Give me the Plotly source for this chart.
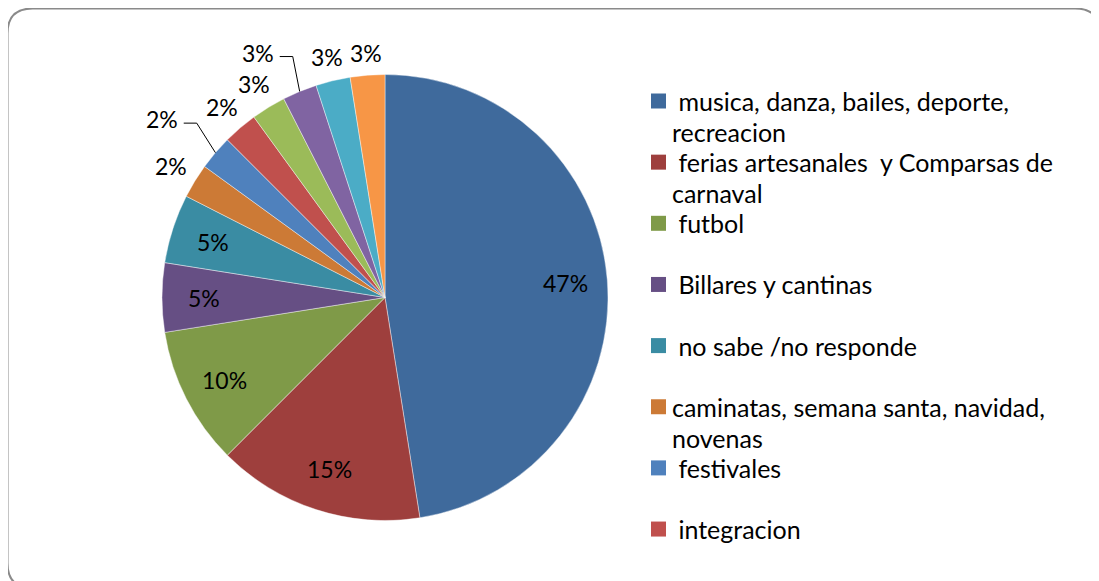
import math
import plotly.graph_objects as go

# ── Data ─────────────────────────────────────────────────────────────────────
CATEGORIES = [
    "musica, danza, bailes, deporte, recreacion",
    "ferias artesanales  y Comparsas de carnaval",
    "futbol",
    "Billares y cantinas",
    "no sabe /no responde",
    "caminatas, semana santa, navidad, novenas",
    "festivales",
    "integracion",
    "otros 1",
    "otros 2",
    "otros 3",
    "otros 4",
]
COUNTS = [19, 6, 4, 2, 2, 1, 1, 1, 1, 1, 1, 1]
PCT_LABELS = ["47%", "15%", "10%", "5%", "5%", "2%", "2%", "2%", "3%", "3%", "3%", "3%"]
LEGEND_LINES = [
    [" musica, danza, bailes, deporte,", "recreacion"],
    [" ferias artesanales  y Comparsas de", "carnaval"],
    [" futbol"],
    [" Billares y cantinas"],
    [" no sabe /no responde"],
    ["caminatas, semana santa, navidad,", "novenas"],
    [" festivales"],
    [" integracion"],
]

COLORS = [
    "#3F6A9C", "#9E3F3D", "#7F9A48", "#664F84", "#3A8CA3", "#CC7A36",
    "#4F81BD", "#C0504D", "#9BBB59", "#8064A2", "#4BACC6", "#F79646",
]

# ── Layout helpers (pixel -> paper, page body adds an 8px offset) ────────────
W, H = 1099, 581
OFF = 8
FONT = "Lato, Calibri, sans-serif"
LABEL_FS = 23
LEGEND_FS = 25


def px(x):
    return (x - OFF) / W


def py(y):
    return 1 - (y - OFF) / H


# pie geometry (pixels)
cx, cy, r = 385, 297.5, 223

fig = go.Figure(go.Pie(
    labels=CATEGORIES,
    values=COUNTS,
    textinfo="none",
    sort=False,
    direction="clockwise",
    rotation=0,
    marker=dict(colors=COLORS, line=dict(color="rgba(255,255,255,0.6)", width=0.7)),
    domain=dict(x=[px(cx - r), px(cx + r)], y=[py(cy + r), py(cy - r)]),
    showlegend=False,
    hovertemplate="%{label}: %{percent}<extra></extra>",
))

shapes = []
annotations = []

# ── Data labels: placed along each slice's mid-angle (Excel style) ──────────
total = sum(COUNTS)
cum = 0
INSIDE = 5          # first five slices get labels inside
PUSHED = {6, 9}     # labels moved aside with leader lines
hw, hh = 15, 11
for i, v in enumerate(COUNTS):
    mid = math.radians((cum + v / 2) / total * 360)
    cum += v
    sx, sy = math.sin(mid), -math.cos(mid)
    if i < INSIDE:
        rho = 0.81 * r
    else:
        rho = r + 10 + hw * abs(sx) + hh * abs(sy)
    lx, ly = cx + rho * sx, cy + rho * sy
    if i in PUSHED:
        lx, ly = lx - 32, ly - 15
    annotations.append(dict(
        xref="paper", yref="paper", x=px(lx), y=py(ly),
        xanchor="center", yanchor="middle", showarrow=False,
        text=PCT_LABELS[i], font=dict(family=FONT, size=LABEL_FS, color="black"),
    ))
    if i in PUSHED:
        rx, ry = cx + r * sx, cy + r * sy
        shapes.append(dict(
            type="path", xref="paper", yref="paper",
            path=f"M {px(lx + 22)},{py(ly + 4)} L {px(lx + 35)},{py(ly + 4)} L {px(rx)},{py(ry)}",
            line=dict(color="black", width=1),
        ))

# ── Legend drawn as squares + text (Excel style, evenly spaced) ─────────────
y0, step, line_h = 101, 61.15, 31
for i, lines in enumerate(LEGEND_LINES):
    yc = y0 + i * step
    shapes.append(dict(
        type="rect", xref="paper", yref="paper",
        x0=px(651), x1=px(666), y0=py(yc + 7.5), y1=py(yc - 7.5),
        fillcolor=COLORS[i], line=dict(width=0),
    ))
    for j, txt in enumerate(lines):
        annotations.append(dict(
            xref="paper", yref="paper", x=px(670), y=py(yc + j * line_h),
            xanchor="left", yanchor="middle", showarrow=False,
            text=txt, font=dict(family=FONT, size=LEGEND_FS, color="black"),
        ))

# ── Rounded chart border ────────────────────────────────────────────────────
bx0, by0, bx1, by1, rr = 7.5, 8.5, 1100, 588, 25
path = (
    f"M {px(bx0)},{py(by1 - rr)} L {px(bx0)},{py(by0 + rr)} "
    f"Q {px(bx0)},{py(by0)} {px(bx0 + rr)},{py(by0)} "
    f"L {px(bx1 - rr)},{py(by0)} Q {px(bx1)},{py(by0)} {px(bx1)},{py(by0 + rr)} "
    f"L {px(bx1)},{py(by1 - rr)} Q {px(bx1)},{py(by1)} {px(bx1 - rr)},{py(by1)} "
    f"L {px(bx0 + rr)},{py(by1)} Q {px(bx0)},{py(by1)} {px(bx0)},{py(by1 - rr)}"
)
shapes.append(dict(type="path", xref="paper", yref="paper", path=path,
                   line=dict(color="#8a8a8a", width=2)))

fig.update_layout(
    width=W, height=H,
    margin=dict(l=0, r=0, t=0, b=0),
    paper_bgcolor="white",
    plot_bgcolor="white",
    font=dict(family=FONT, size=LABEL_FS, color="black"),
    shapes=shapes,
    annotations=annotations,
)

fig.write_html("out.html")
